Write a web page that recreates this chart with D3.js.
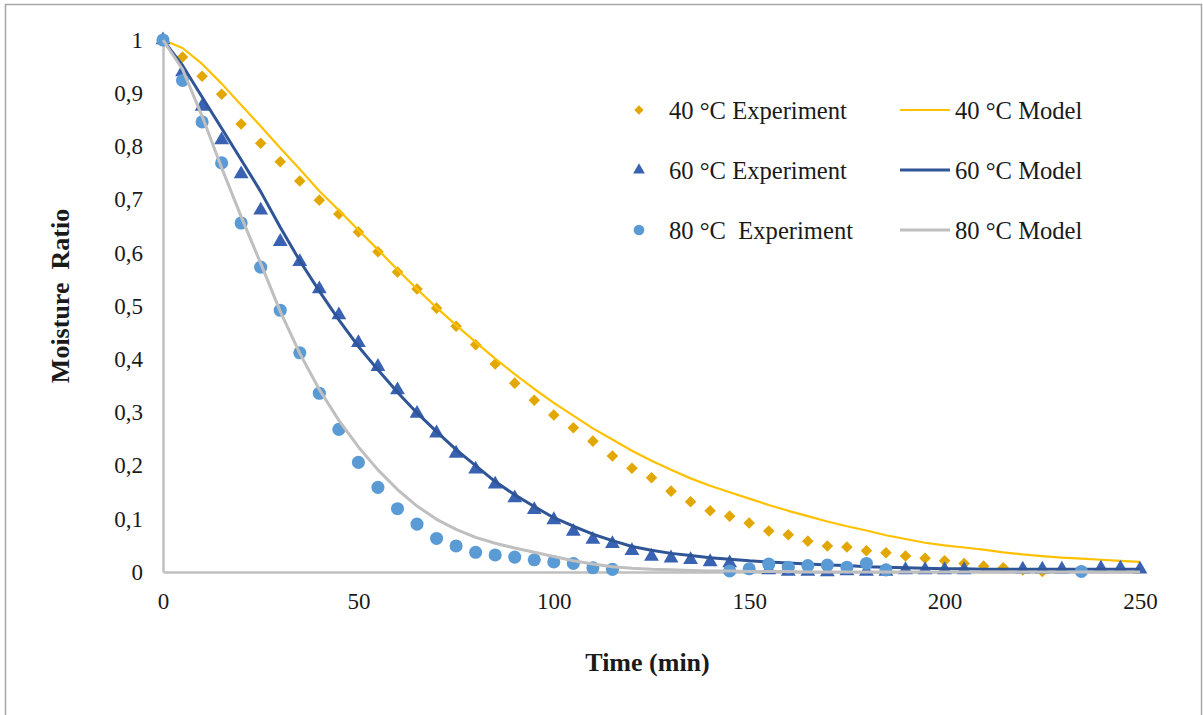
<!DOCTYPE html>
<html><head><meta charset="utf-8">
<script src="https://cdn.jsdelivr.net/npm/d3@7/dist/d3.min.js"></script>
<style>body{margin:0;background:#fff}svg{display:block}</style>
</head><body>
<svg id="chart" width="1203" height="715"></svg>
<script>
// ---- data ----
const exp40T = [0,5,10,15,20,25,30,35,40,45,50,55,60,65,70,75,80,85,90,95,100,105,110,115,120,125,130,135,140,145,150,155,160,165,170,175,180,185,190,195,200,205,210,215,220,225];
const exp40MR = [1,0.968,0.932,0.898,0.842,0.806,0.771,0.735,0.699,0.673,0.639,0.602,0.564,0.532,0.496,0.462,0.427,0.391,0.355,0.323,0.295,0.271,0.246,0.218,0.195,0.177,0.152,0.132,0.115,0.105,0.092,0.077,0.070,0.058,0.049,0.047,0.040,0.036,0.030,0.026,0.021,0.016,0.011,0.008,0.004,0.001];
const exp60T = [0,5,10,15,20,25,30,35,40,45,50,55,60,65,70,75,80,85,90,95,100,105,110,115,120,125,130,135,140,145,155,160,165,170,175,180,185,190,195,200,205,220,225,230,240,245,250];
const exp60MR = [1,0.940,0.875,0.812,0.748,0.680,0.621,0.583,0.532,0.483,0.431,0.386,0.342,0.298,0.261,0.223,0.193,0.165,0.139,0.117,0.098,0.076,0.061,0.053,0.040,0.029,0.026,0.023,0.019,0.017,0.004,0.001,0.001,0.0,0.002,0.001,0.001,0.004,0.004,0.004,0.004,0.005,0.005,0.005,0.007,0.007,0.005];
const exp80T = [0,5,10,15,20,25,30,35,40,45,50,55,60,65,70,75,80,85,90,95,100,105,110,115,145,150,155,160,165,170,175,180,185,235];
const exp80MR = [1,0.924,0.846,0.769,0.656,0.573,0.492,0.412,0.336,0.268,0.206,0.159,0.119,0.090,0.063,0.049,0.037,0.032,0.028,0.023,0.019,0.016,0.008,0.005,0.002,0.006,0.015,0.009,0.012,0.013,0.009,0.016,0.004,0.001];
const modelT = [0,5,10,15,20,25,30,35,40,45,50,55,60,65,70,75,80,85,90,95,100,105,110,115,120,125,130,135,140,145,150,155,160,165,170,175,180,185,190,195,200,205,210,215,220,225,230,235,240,245,250];
const model40 = [1,0.985,0.955,0.918,0.878,0.838,0.797,0.757,0.716,0.680,0.643,0.606,0.568,0.532,0.497,0.464,0.432,0.401,0.372,0.344,0.318,0.294,0.270,0.249,0.228,0.209,0.192,0.176,0.162,0.150,0.138,0.126,0.115,0.105,0.095,0.086,0.078,0.069,0.062,0.055,0.050,0.046,0.042,0.037,0.033,0.030,0.027,0.025,0.023,0.021,0.019];
const model60 = [1,0.952,0.893,0.834,0.775,0.715,0.648,0.585,0.528,0.474,0.424,0.380,0.338,0.299,0.264,0.230,0.200,0.170,0.145,0.123,0.102,0.086,0.071,0.059,0.048,0.041,0.035,0.031,0.027,0.024,0.021,0.019,0.017,0.015,0.013,0.012,0.010,0.009,0.008,0.007,0.006,0.006,0.005,0.005,0.005,0.005,0.005,0.005,0.005,0.005,0.005];
const model80 = [1,0.945,0.857,0.760,0.668,0.580,0.490,0.411,0.343,0.285,0.235,0.192,0.155,0.124,0.099,0.080,0.065,0.054,0.045,0.037,0.029,0.021,0.015,0.010,0.007,0.005,0.004,0.003,0.002,0.002,0.001,0.001,0.001,0,0,0,0,0,0,0,0,0,0,0,0,0,0,0,0,0,0];
const xTicks = [0,50,100,150,200,250];
const yTicks = [0,0.1,0.2,0.3,0.4,0.5,0.6,0.7,0.8,0.9,1];
const legendLabels = ["40 °C Experiment","40 °C Model","60 °C Experiment","60 °C Model","80 °C  Experiment","80 °C Model"];

// ---- drawing ----
const svg = d3.select("#chart");
const ml = 163, mr = 1140, mt = 40, mb = 572;
const x = d3.scaleLinear().domain([0,250]).range([ml, mr]);
const y = d3.scaleLinear().domain([0,1]).range([mb, mt]);
const font = "'Liberation Serif','Times New Roman',serif";

svg.append("rect").attr("x",5.5).attr("y",4.5).attr("width",1196).attr("height",730)
  .attr("fill","#fff").attr("stroke","#a6a6a6").attr("stroke-width",1.5);

const axisColor = "#bfbfbf";
const fmt = d => d3.format(".1f")(d).replace(".", ",").replace(/^1,0$/,"1").replace(/^0,0$/,"0");

const gx = svg.append("g").attr("transform",`translate(0,${mb})`)
  .call(d3.axisBottom(x).tickValues(xTicks).tickSize(0).tickPadding(21).tickFormat(d3.format("d")));
const gy = svg.append("g").attr("transform",`translate(${ml},0)`)
  .call(d3.axisLeft(y).tickValues(yTicks).tickSize(0).tickPadding(20).tickFormat(fmt));
[gx, gy].forEach(g => {
  g.select(".domain").attr("stroke", axisColor).attr("stroke-width", 2.5);
  g.selectAll("text").attr("font-family", font).attr("font-size", 23).attr("fill", "#1a1a1a");
});

svg.append("text").attr("x", (ml+mr)/2 - 4).attr("y", 671).attr("text-anchor","middle")
  .attr("font-family", font).attr("font-weight","bold").attr("font-size", 26).attr("fill","#1a1a1a")
  .text("Time (min)");
svg.append("text").attr("transform", `translate(69,${(mt+mb)/2 - 10}) rotate(-90)`).attr("text-anchor","middle")
  .attr("font-family", font).attr("font-weight","bold").attr("font-size", 26).attr("fill","#1a1a1a")
  .attr("xml:space","preserve").style("white-space","pre")
  .text("Moisture  Ratio");

const c40 = "#e2a700", l40 = "#ffc000";
const c60 = "#3a62b3", l60 = "#2f5597";
const c80 = "#5b9bd5", l80 = "#bfbfbf";

const line = d3.line().x(d => x(d[0])).y(d => y(d[1]));
const zip = (a, b) => a.map((v, i) => [v, b[i]]);

const sym = {
  diamond: d3.symbol().type(d3.symbolDiamond2).size(85),
  triangle: d3.symbol().type(d3.symbolTriangle).size(95),
  circle: d3.symbol().type(d3.symbolCircle).size(135)
};

function drawExp(T, M, s, color) {
  svg.append("g").selectAll("path").data(zip(T, M)).join("path")
    .attr("transform", d => `translate(${x(d[0])},${y(d[1])})`)
    .attr("d", sym[s]).attr("fill", color);
}
function drawModel(M, color, w) {
  svg.append("path").datum(zip(modelT, M)).attr("d", line)
    .attr("fill","none").attr("stroke", color).attr("stroke-width", w).attr("stroke-linejoin","round");
}
drawExp(exp40T, exp40MR, "diamond", c40);
drawModel(model40, l40, 2.2);
drawExp(exp60T, exp60MR, "triangle", c60);
drawModel(model60, l60, 3);
drawExp(exp80T, exp80MR, "circle", c80);
drawModel(model80, l80, 3);

// legend
const rows = [110, 170, 230];
const legSym = [[d3.symbolDiamond2, 55, c40], [d3.symbolTriangle, 60, c60], [d3.symbolCircle, 90, c80]];
const legLine = [[l40, 2.2], [l60, 3], [l80, 3]];
rows.forEach((ry, i) => {
  svg.append("path").attr("transform", `translate(639,${ry})`)
    .attr("d", d3.symbol().type(legSym[i][0]).size(legSym[i][1])).attr("fill", legSym[i][2]);
  svg.append("text").attr("x", 669).attr("y", ry).attr("dy","0.35em").attr("font-family", font)
    .attr("font-size", 24.6).attr("fill","#1a1a1a").style("white-space","pre").text(legendLabels[i*2]);
  svg.append("line").attr("x1", 900).attr("x2", 950).attr("y1", ry).attr("y2", ry)
    .attr("stroke", legLine[i][0]).attr("stroke-width", legLine[i][1]);
  svg.append("text").attr("x", 955).attr("y", ry).attr("dy","0.35em").attr("font-family", font)
    .attr("font-size", 24.6).attr("fill","#1a1a1a").text(legendLabels[i*2+1]);
});
</script>
</body></html>
